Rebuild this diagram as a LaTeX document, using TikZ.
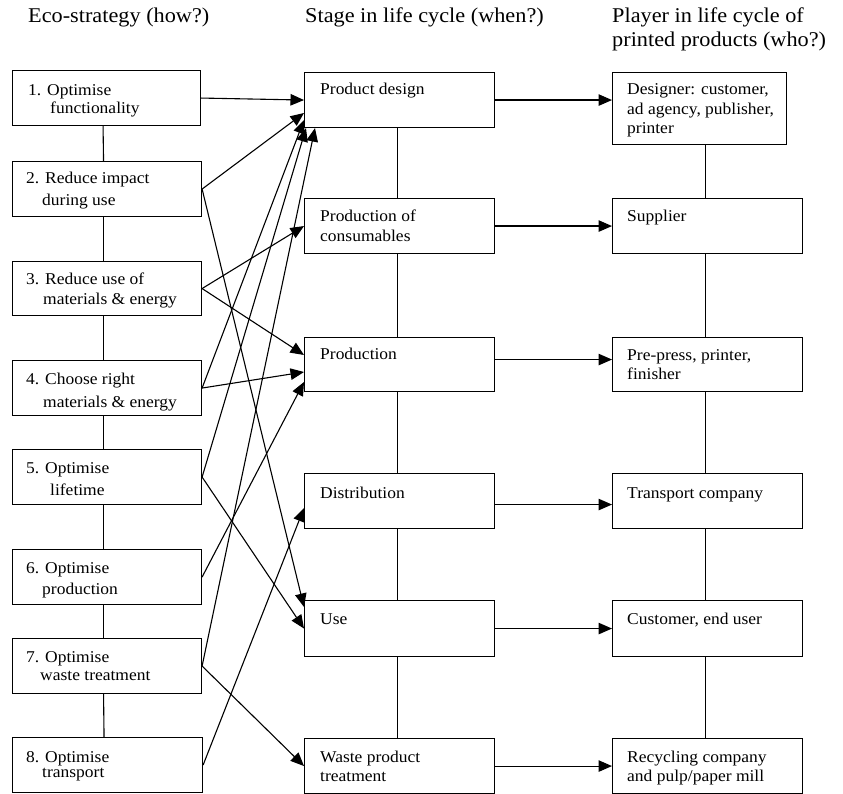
\documentclass[tikz,border=0pt]{standalone}
\usepackage{fontspec}
\setmainfont{Liberation Serif}[FakeStretch=1.06]
\usetikzlibrary{arrows.meta,calc}

\newcommand{\boxfont}{\fontsize{16.5}{19}\selectfont}
\newcommand{\headfont}{\fontsize{21}{24}\selectfont}

\tikzset{
  stagebox/.style={draw, line width=1.1pt, inner sep=0pt, anchor=north west},
  txt/.style={anchor=base west, inner sep=0pt, font=\boxfont},
  head/.style={anchor=base west, inner sep=0pt, font=\headfont},
  link/.style={line width=1.1pt},
  arr/.style={line width=1.1pt, -{Triangle[length=13.5pt,width=11.5pt]}},
}

\begin{document}
\begin{tikzpicture}[x=1pt, y=-1pt]
\useasboundingbox[fill=white] (0,0) rectangle (843,794);

% column headings
\node[head] (h1)  at (28,23)  {Eco-strategy (how?)};
\node[head] (h2)  at (305,23) {Stage in life cycle (when?)};
\node[head] (h3a) at (612,23) {Player in life cycle of};
\node[head] (h3b) at (612,47) {printed products (who?)};

% eco-strategies
\node[stagebox, minimum width=188pt, minimum height=55pt] (s1) at (12,70)  {};
\node[stagebox, minimum width=189pt, minimum height=55pt] (s2) at (12,161) {};
\node[stagebox, minimum width=189pt, minimum height=54pt] (s3) at (12,261) {};
\node[stagebox, minimum width=189pt, minimum height=55pt] (s4) at (12,360) {};
\node[stagebox, minimum width=189pt, minimum height=55pt] (s5) at (12,449) {};
\node[stagebox, minimum width=189pt, minimum height=55pt] (s6) at (12,549) {};
\node[stagebox, minimum width=189pt, minimum height=55pt] (s7) at (12,638) {};
\node[stagebox, minimum width=190pt, minimum height=55pt] (s8) at (12,737) {};

\node[txt] (s1a) at (28,96)  {1. Optimise};
\node[txt] (s1b) at (50,114) {functionality};
\node[txt] (s2a) at (26,184) {2. Reduce impact};
\node[txt] (s2b) at (42,206) {during use};
\node[txt] (s3a) at (26,284) {3. Reduce use of};
\node[txt] (s3b) at (43,305) {materials \& energy};
\node[txt] (s4a) at (26,384) {4. Choose right};
\node[txt] (s4b) at (43,407) {materials \& energy};
\node[txt] (s5a) at (26,473) {5. Optimise};
\node[txt] (s5b) at (50,495) {lifetime};
\node[txt] (s6a) at (26,573) {6. Optimise};
\node[txt] (s6b) at (42,594) {production};
\node[txt] (s7a) at (26,662) {7. Optimise};
\node[txt] (s7b) at (40,680) {waste treatment};
\node[txt] (s8a) at (26,762) {8. Optimise};
\node[txt] (s8b) at (42,777) {transport};

% life cycle stages
\node[stagebox, minimum width=190pt, minimum height=55pt] (pd)   at (304,72)  {};
\node[stagebox, minimum width=190pt, minimum height=55pt] (pc)   at (304,198) {};
\node[stagebox, minimum width=190pt, minimum height=54pt] (prod) at (304,337) {};
\node[stagebox, minimum width=190pt, minimum height=55pt] (dist) at (304,473) {};
\node[stagebox, minimum width=190pt, minimum height=56pt] (use)  at (304,600) {};
\node[stagebox, minimum width=190pt, minimum height=55pt] (wst)  at (304,738) {};

\node[txt] (pdt)   at (320,95)  {Product design};
\node[txt] (pct1)  at (320,222) {Production of};
\node[txt] (pct2)  at (320,242) {consumables};
\node[txt] (prodt) at (320,359) {Production};
\node[txt] (distt) at (320,498) {Distribution};
\node[txt] (uset)  at (320,624) {Use};
\node[txt] (wstt1) at (320,762) {Waste product};
\node[txt] (wstt2) at (320,781) {treatment};

% players
\node[stagebox, minimum width=174pt, minimum height=72pt] (des) at (612,72)  {};
\node[stagebox, minimum width=190pt, minimum height=55pt] (sup) at (612,198) {};
\node[stagebox, minimum width=190pt, minimum height=54pt] (pp)  at (612,337) {};
\node[stagebox, minimum width=190pt, minimum height=55pt] (trc) at (612,473) {};
\node[stagebox, minimum width=190pt, minimum height=56pt] (cus) at (612,600) {};
\node[stagebox, minimum width=190pt, minimum height=55pt] (rec) at (612,738) {};

\node[txt] (dest1) at (627,95)  {Designer: customer,};
\node[txt] (dest2) at (627,115) {ad agency, publisher,};
\node[txt] (dest3) at (627,134) {printer};
\node[txt] (supt)  at (627,222) {Supplier};
\node[txt] (ppt1)  at (627,360) {Pre-press, printer,};
\node[txt] (ppt2)  at (627,379) {finisher};
\node[txt] (trct)  at (627,498) {Transport company};
\node[txt] (cust)  at (627,624) {Customer, end user};
\node[txt] (rect1) at (627,762) {Recycling company};
\node[txt] (rect2) at (627,781) {and pulp/paper mill};

% column spines
\foreach \a/\b in {s1/s2, s2/s3, s3/s4, s4/s5, s5/s6, s6/s7, s7/s8}
  \draw[link] ([xshift=-3.5pt]\a.south) -- ([xshift=-3.5pt]\b.north);
\foreach \a/\b in {pd/pc, pc/prod, prod/dist, dist/use, use/wst}
  \draw[link] ([xshift=-2pt]\a.south) -- ([xshift=-2pt]\b.north);
\draw[link] ([xshift=-2pt]sup.north |- des.south) -- ([xshift=-2pt]sup.north);
\foreach \a/\b in {sup/pp, pp/trc, trc/cus, cus/rec}
  \draw[link] ([xshift=-2pt]\a.south) -- ([xshift=-2pt]\b.north);

% strategy -> stage
\draw[arr] (s1.east) -- (pd.west);
\draw[arr] (s2.east) -- ($(pd.north west)+(0,41)$);
\draw[arr] (s2.east) -- ($(use.north west)+(0,7)$);
\draw[arr] (s3.east) -- (pc.west);
\draw[arr] (s3.east) -- ($(prod.north west)+(0,18)$);
\draw[arr] (s4.east) -- ($(pd.north west)+(0,48)$);
\draw[arr] (s4.east) -- ($(prod.north west)+(0,35)$);
\draw[arr] (s5.east) -- ($(pd.south west)+(2,0)$);
\draw[arr] (s5.east) -- (use.west);
\draw[arr] (s6.east) -- ($(prod.north west)+(0,45)$);
\draw[arr] (s7.east) -- ($(pd.south west)+(11,0)$);
\draw[arr] (s7.east) -- (wst.west);
\draw[arr] (s8.east) -- ($(dist.north west)+(0,35)$);

% stage -> player
\draw[arr] (pd.east) -- (pd.east -| des.west);
\draw[arr] (pc.east) -- (sup.west);
\draw[arr] ([yshift=5pt]prod.east) -- ([yshift=5pt]pp.west);
\draw[arr] ([yshift=-3.5pt]dist.east) -- ([yshift=-3.5pt]trc.west);
\draw[arr] (use.east) -- (cus.west);
\draw[arr] (wst.east) -- (rec.west);
\end{tikzpicture}
\end{document}
